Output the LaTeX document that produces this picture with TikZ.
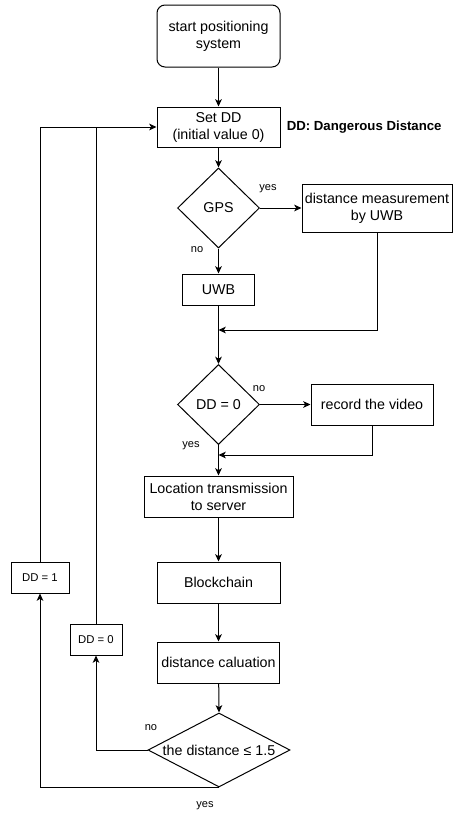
\documentclass[tikz,border=0pt]{standalone}
\usepackage{fontspec}
\setmainfont{Liberation Sans}
\usetikzlibrary{shapes.geometric, arrows.meta}

\begin{document}
\begin{tikzpicture}[x=0.75pt, y=-0.75pt, line width=0.75pt,
		every node/.style={font=\fontsize{10.7}{12.75}\selectfont, align=center, inner sep=1pt},
		proc/.style={draw, rectangle, minimum width=92.25pt, minimum height=30.75pt},
		startbox/.style={proc, rounded corners=6pt, minimum height=46.5pt},
		decision/.style={draw, diamond, inner sep=0pt, minimum width=61.5pt, minimum height=60pt},
		setval/.style={draw, rectangle, minimum height=23.25pt, font=\fontsize{8.5}{10}\selectfont},
		tag/.style={font=\fontsize{8.3}{10}\selectfont, inner sep=0pt},
		flow/.style={-{Stealth[length=5.5pt, width=5pt, inset=1.5pt]}}]
		\useasboundingbox (0,0) rectangle (454,814);
		
		\node[startbox] (start) at (218.5, 36) {start positioning\\system};
		\node[proc, minimum height=30pt] (setdd) at (218.5, 127) {Set DD\\(initial value 0)};
		\node[anchor=west, font=\fontsize{9.9}{12}\selectfont\bfseries] (legend) at (285, 127) {DD: Dangerous Distance};
		\node[decision] (gps) at (218.5, 208) {GPS};
		\node[proc, minimum width=112.5pt, minimum height=36pt] (uwbmeas) at (377, 208) {distance measurement\\by UWB};
		\node[proc, minimum width=54pt, minimum height=23.25pt] (uwb) at (218.5, 289.5) {UWB};
		\node[decision] (ddzero) at (218.5, 404.5) {DD = 0};
		\node[proc, minimum width=91.5pt] (video) at (372, 404.5) {record the video};
		\node[proc, minimum width=111.75pt] (send) at (218.5, 496.5) {Location transmission\\to server};
		\node[proc] (chain) at (218.5, 582.5) {Blockchain};
		\node[proc, minimum width=91.5pt] (calc) at (218.5, 662.5) {distance caluation};
		\node[decision, shape aspect=1.92, minimum width=106.5pt, minimum height=55.5pt] (check) at (219, 750) {the distance ≤ 1.5};
		\node[setval, minimum width=39pt] (setzero) at (96, 639.5) {DD = 0};
		\node[setval, minimum width=43.5pt] (setone) at (40, 577.5) {DD = 1};
		
		\coordinate (joinA) at (218.5, 330);
		\coordinate (joinB) at (218.5, 455);
		
		\draw[flow] (start) -- (setdd);
		\draw[flow] (setdd) -- (gps);
		\draw[flow] (gps.east) -- (uwbmeas.west);
		\draw[flow] (gps.south) -- (uwb.north);
		\draw[flow] (uwbmeas.south) |- (joinA);
		\draw[flow] (uwb.south) -- (ddzero.north);
		\draw[flow] (ddzero.east) -- (video.west);
		\draw[flow] (video.south) |- (joinB);
		\draw[flow] (ddzero.south) -- (send.north);
		\draw[flow] (send) -- (chain);
		\draw[flow] (chain) -- (calc);
		\draw[flow] (calc) -- (check.north);
		\draw[flow] (check.west) -| (setzero.south);
		\draw[flow] (check.south) -| (setone.south);
		\draw (setzero.north) -- (setzero.north |- setdd.west);
		\draw[flow] (setone.north) |- (setdd.west);
		
		\node[tag] (gpsyes) at (268, 189) {yes};
		\node[tag] (gpsno) at (197, 250) {no};
		\node[tag] (ddno) at (259, 389) {no};
		\node[tag] (ddyes) at (191, 446) {yes};
		\node[tag] (checkno) at (151, 728) {no};
		\node[tag] (checkyes) at (205, 806) {yes};
	\end{tikzpicture}
\end{document}
